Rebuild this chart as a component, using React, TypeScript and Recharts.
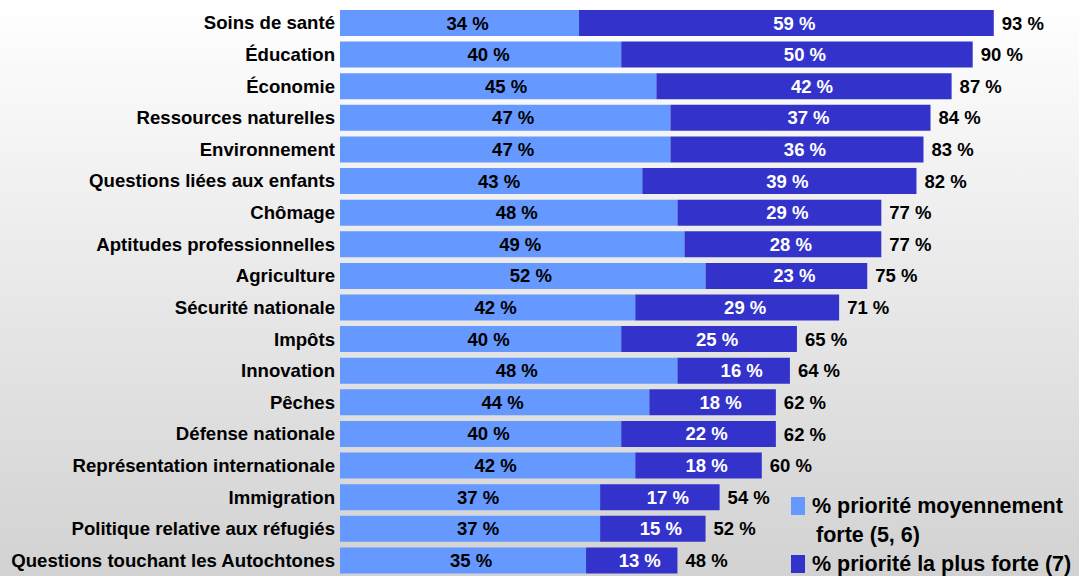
import { BarChart, Bar, XAxis, YAxis, LabelList } from 'recharts';

const categories = [
  'Soins de santé',
  'Éducation',
  'Économie',
  'Ressources naturelles',
  'Environnement',
  'Questions liées aux enfants',
  'Chômage',
  'Aptitudes professionnelles',
  'Agriculture',
  'Sécurité nationale',
  'Impôts',
  'Innovation',
  'Pêches',
  'Défense nationale',
  'Représentation internationale',
  'Immigration',
  'Politique relative aux réfugiés',
  'Questions touchant les Autochtones',
];

const moyenne = [34, 40, 45, 47, 47, 43, 48, 49, 52, 42, 40, 48, 44, 40, 42, 37, 37, 35];
const forte = [59, 50, 42, 37, 36, 39, 29, 28, 23, 29, 25, 16, 18, 22, 18, 17, 15, 13];
const totals = [93, 90, 87, 84, 83, 82, 77, 77, 75, 71, 65, 64, 62, 62, 60, 54, 52, 48];

const LIGHT = '#6699ff';
const DARK = '#3333cc';
const FONT = '"Liberation Sans", Arial, sans-serif';

const data = categories.map((name, i) => ({
  name,
  moyenne: moyenne[i],
  forte: forte[i],
  total: totals[i],
}));

// centred label, nudged a little right like the original slide
const inner = (color: string) => (props: any) => {
  const { x, y, width, height, value } = props;
  return (
    <text
      x={x + width / 2 + 8}
      y={y + height / 2}
      textAnchor="middle"
      dominantBaseline="central"
      fill={color}
      fontSize={18.5}
      fontWeight="bold"
      fontFamily={FONT}
    >
      {`${value} %`}
    </text>
  );
};

const LegendBox = () => (
  <div
    style={{
      position: 'absolute',
      left: 791,
      top: 492,
      fontFamily: FONT,
      fontWeight: 'bold',
      fontSize: 21.5,
      color: '#000',
      lineHeight: '29px',
    }}
  >
    <div style={{ display: 'flex', alignItems: 'flex-start' }}>
      <span style={{ display: 'inline-block', width: 14, height: 18, background: LIGHT, marginTop: 5, marginRight: 7 }} />
      <span>
        % priorité moyennement
        <br />
        <span style={{ marginLeft: 4 }}>forte (5, 6)</span>
      </span>
    </div>
    <div style={{ display: 'flex', alignItems: 'flex-start' }}>
      <span style={{ display: 'inline-block', width: 14, height: 18, background: DARK, marginTop: 5, marginRight: 7 }} />
      <span>% priorité la plus forte (7)</span>
    </div>
  </div>
);

export default function App() {
  return (
    <div
      style={{
        position: 'absolute',
        left: 0,
        top: 0,
        width: 1079,
        height: 576,
        background: 'linear-gradient(#ffffff, #d2d2d2)',
      }}
    >
      <BarChart
        width={1079}
        height={576}
        data={data}
        layout="vertical"
        margin={{ top: 7, right: 36, bottom: 0, left: 0 }}
      >
        <XAxis type="number" domain={[0, 100]} hide />
        <YAxis
          type="category"
          dataKey="name"
          width={340}
          axisLine={false}
          tickLine={false}
          tickSize={0}
          tickMargin={5}
          interval={0}
          tick={{ fill: '#000', fontSize: 18.6, fontWeight: 'bold', fontFamily: FONT }}
        />
        <Bar dataKey="moyenne" stackId="a" fill={LIGHT} barSize={26} isAnimationActive={false}>
          <LabelList dataKey="moyenne" content={inner('#000')} />
        </Bar>
        <Bar dataKey="forte" stackId="a" fill={DARK} barSize={26} isAnimationActive={false}>
          <LabelList dataKey="forte" content={inner('#fff')} />
          <LabelList
            dataKey="total"
            position="right"
            offset={8}
            formatter={(v: any) => `${v} %`}
            style={{ fill: '#000', fontSize: 18.5, fontWeight: 'bold', fontFamily: FONT }}
          />
        </Bar>
      </BarChart>
      <LegendBox />
    </div>
  );
}
